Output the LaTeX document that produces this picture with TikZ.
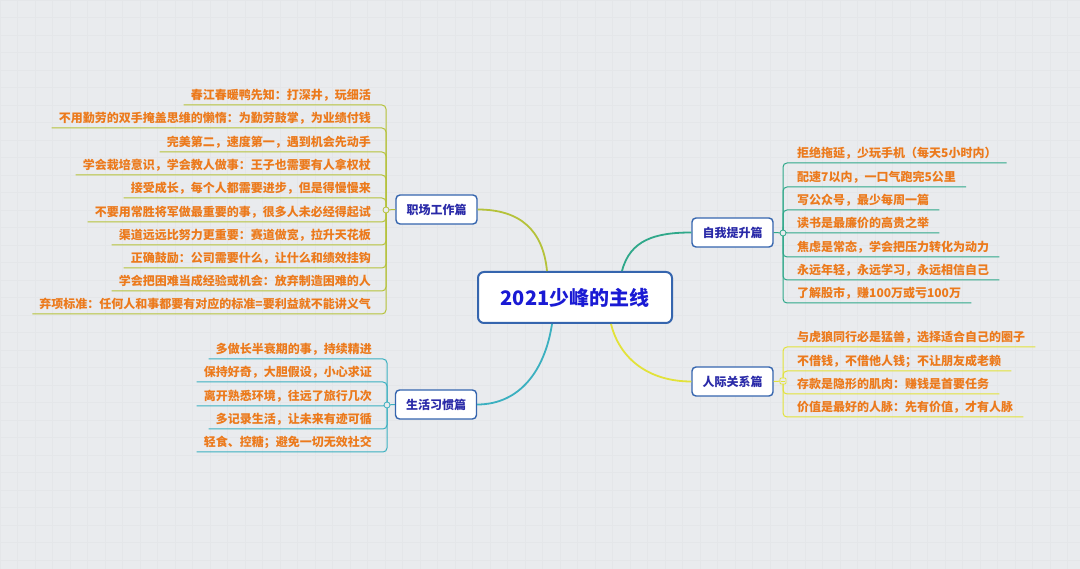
\documentclass[tikz,border=0pt]{standalone}
\usepackage{fontspec}
\setmainfont{Noto Sans CJK SC}
\definecolor{bgc}{HTML}{E9EBEE}
\definecolor{gridc}{HTML}{E4E6E9}
\definecolor{cA}{HTML}{B5C23A}
\definecolor{cB}{HTML}{3BB0C0}
\definecolor{cC}{HTML}{2FA88A}
\definecolor{cD}{HTML}{E2E23A}
\definecolor{leaforange}{HTML}{EC7A1C}
\definecolor{boxblue}{HTML}{3565AE}
\definecolor{branchtext}{HTML}{2A2AA8}
\definecolor{centertext}{HTML}{1A1AD4}
\tikzset{
  centerbox/.style={draw=boxblue, line width=2pt, fill=white, rounded corners=6pt,
    minimum width=194pt, minimum height=51pt, inner sep=0pt,
    font=\fontsize{20}{24}\selectfont\bfseries, text=centertext},
  branchbox/.style={draw=boxblue, line width=1.4pt, fill=white, rounded corners=4pt,
    minimum width=81pt, minimum height=29pt, inner sep=0pt,
    font=\fontsize{12}{14}\selectfont\bfseries, text=branchtext},
  leafL/.style={anchor=base east, inner sep=0pt, text=leaforange,
    font=\fontsize{12}{14}\selectfont\bfseries},
  leafR/.style={anchor=base west, inner sep=0pt, text=leaforange,
    font=\fontsize{12}{14}\selectfont\bfseries},
  mainline/.style={line width=1.8pt},
  subline/.style={line width=1pt, rounded corners=4pt},
  knob/.style={circle, draw, line width=0.8pt, fill=bgc, minimum size=6pt, inner sep=0pt},
  sqknob/.style={rectangle, draw, line width=0.8pt, fill=bgc, minimum size=6pt, inner sep=0pt,
    rounded corners=1pt},
}
\begin{document}
\begin{tikzpicture}[x=1pt,y=-1pt]
\useasboundingbox (0,0) rectangle (1080,569);
\fill[bgc] (0,0) rectangle (1080,569);
\draw[gridc, line width=0.4pt, step=17.5pt] (0,0) grid (1080,569);

% center and branches
\node[centerbox] (c) at (575,297.5) {2021少峰的主线};
\node[branchbox] (za) at (436.5,209.5) {职场工作篇};
\node[branchbox] (zb) at (436,404.5) {生活习惯篇};
\node[branchbox] (zc) at (732.5,232.5) {自我提升篇};
\node[branchbox] (zd) at (732.5,381.5) {人际关系篇};

\coordinate (ca) at (386,210);
\coordinate (cb) at (387,405);
\coordinate (cc) at (783,233);
\coordinate (cd) at (783,381);

% main connectors
\draw[mainline, cA] ([xshift=-28pt]c.north) .. controls (543,230) and (520,209.5) .. (za.east);
\draw[mainline, cB] ([xshift=-23pt]c.south) .. controls (545,370) and (520,404.5) .. (zb.east);
\draw[mainline, cC] ([xshift=47pt]c.north) .. controls (630,240) and (655,232.5) .. (zc.west);
\draw[mainline, cD] ([xshift=36pt]c.south) .. controls (620,360) and (650,381.5) .. (zd.west);

% left top leaves
\node[leafL] (a1) at (371,100) {春江春暖鸭先知：打深井，玩细活};
\node[leafL] (a2) at (371,123) {不用勤劳的双手掩盖思维的懒惰：为勤劳鼓掌，为业绩付钱};
\node[leafL] (a3) at (371,147) {完美第二，速度第一，遇到机会先动手};
\node[leafL] (a4) at (371,170) {学会栽培意识，学会教人做事：王子也需要有人拿权杖};
\node[leafL] (a5) at (371,193) {接受成长，每个人都需要进步，但是得慢慢来};
\node[leafL] (a6) at (371,217) {不要用常胜将军做最重要的事，很多人未必经得起试};
\node[leafL] (a7) at (371,240) {渠道远远比努力更重要：赛道做宽，拉升天花板};
\node[leafL] (a8) at (371,263) {正确鼓励：公司需要什么，让什么和绩效挂钩};
\node[leafL] (a9) at (371,286) {学会把困难当成经验或机会：放弃制造困难的人};
\node[leafL] (a10) at (371,309) {弃项标准：任何人和事都要有对应的标准=要利益就不能讲义气};
\foreach \i in {1,...,10}{
  \draw[subline, cA] (ca) |- ([xshift=-7pt,yshift=-5pt]a\i.base west);
}
\draw[subline, cA] (za.west) -- (ca);

% left bottom leaves
\node[leafL] (b1) at (372,354) {多做长半衰期的事，持续精进};
\node[leafL] (b2) at (372,377) {保持好奇，大胆假设，小心求证};
\node[leafL] (b3) at (372,401) {离开熟悉环境，往远了旅行几次};
\node[leafL] (b4) at (372,424) {多记录生活，让未来有迹可循};
\node[leafL] (b5) at (372,447) {轻食、控糖；避免一切无效社交};
\foreach \i in {1,...,5}{
  \draw[subline, cB] (cb) |- ([xshift=-7pt,yshift=-5pt]b\i.base west);
}
\draw[subline, cB] (zb.west) -- (cb);

% right top leaves
\node[leafR] (r1) at (797,158) {拒绝拖延，少玩手机（每天5小时内）};
\node[leafR] (r2) at (797,182) {配速7以内，一口气跑完5公里};
\node[leafR] (r3) at (797,205) {写公众号，最少每周一篇};
\node[leafR] (r4) at (797,228) {读书是最廉价的高贵之举};
\node[leafR] (r5) at (797,252) {焦虑是常态，学会把压力转化为动力};
\node[leafR] (r6) at (797,275) {永远年轻，永远学习，永远相信自己};
\node[leafR] (r7) at (797,298) {了解股市，赚100万或亏100万};
\foreach \i in {1,...,7}{
  \draw[subline, cC] (cc) |- ([xshift=10pt,yshift=-5pt]r\i.base east);
}
\draw[subline, cC] (zc.east) -- (cc);

% right bottom leaves
\node[leafR] (s1) at (797,342) {与虎狼同行必是猛兽，选择适合自己的圈子};
\node[leafR] (s2) at (797,366) {不借钱，不借他人钱；不让朋友成老赖};
\node[leafR] (s3) at (797,389) {存款是隐形的肌肉：赚钱是首要任务};
\node[leafR] (s4) at (797,412) {价值是最好的人脉：先有价值，才有人脉};
\foreach \i in {1,...,4}{
  \draw[subline, cD] (cd) |- ([xshift=10pt,yshift=-5pt]s\i.base east);
}
\draw[subline, cD] (zd.east) -- (cd);

% knobs
\node[knob, draw=cA] (ka) at (ca) {};
\node[knob, draw=cB] (kb) at (cb) {};
\node[knob, draw=cC] (kc) at (cc) {};
\node[sqknob, draw=cD] (kd) at (cd) {};
\draw[cD, line width=0.6pt] ([xshift=-1.8pt]kd.center) -- ([xshift=1.8pt]kd.center);
\end{tikzpicture}
\end{document}
